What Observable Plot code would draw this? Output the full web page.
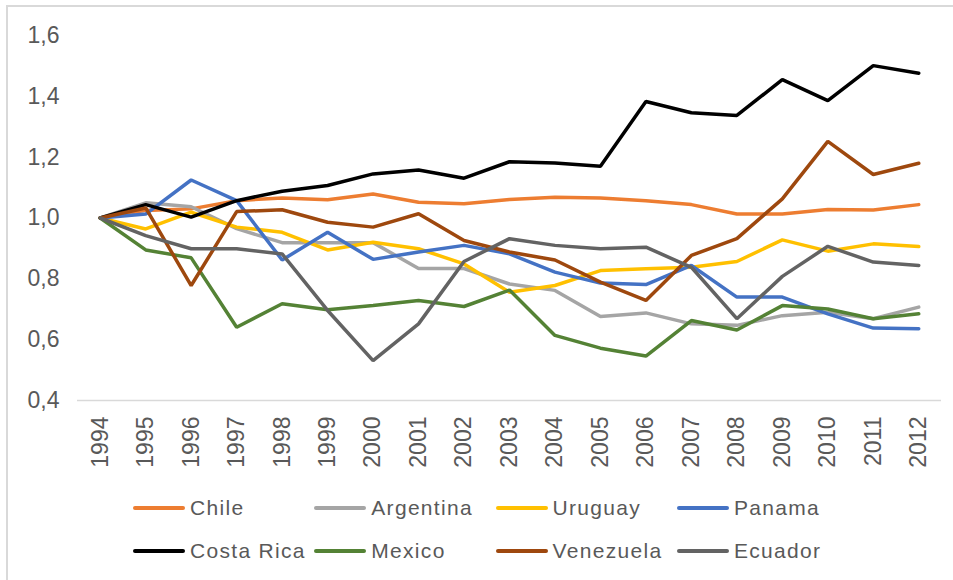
<!DOCTYPE html>
<html>
<head>
<meta charset="utf-8">
<script src="https://cdn.jsdelivr.net/npm/d3@7"></script>
<script src="https://cdn.jsdelivr.net/npm/@observablehq/plot@0.6"></script>
<style>
  html, body { margin: 0; padding: 0; background: #fff; overflow: hidden; }
  body { width: 953px; height: 580px; position: relative; font-family: "Liberation Sans", Arial, sans-serif; }
  #frame { position: absolute; left: 6px; top: 5px; width: 980px; height: 620px; border: 2px solid #d9d9d9; box-sizing: border-box; }
  #chart { position: absolute; left: 0; top: 0; }
  #legend { position: absolute; left: 133px; top: 486px; display: grid; grid-template-columns: repeat(4, 181.3px); grid-auto-rows: 43px; }
  .item { display: flex; align-items: center; font-size: 21px; letter-spacing: 1.3px; color: #595959; }
  .sw { width: 52px; height: 4px; border-radius: 2px; margin-right: 5px; flex: none; }
</style>
</head>
<body>
<div id="frame"></div>
<div id="chart"></div>
<div id="legend"></div>
<script>
// Years on the category axis
const years = [1994, 1995, 1996, 1997, 1998, 1999, 2000, 2001, 2002, 2003,
               2004, 2005, 2006, 2007, 2008, 2009, 2010, 2011, 2012];

// Index values per country (1994 = 1)
const chile      = [1.000, 1.025, 1.030, 1.057, 1.066, 1.060, 1.079, 1.052, 1.047, 1.061, 1.068, 1.066, 1.057, 1.044, 1.013, 1.013, 1.028, 1.026, 1.044];
const argentina  = [1.000, 1.050, 1.037, 0.965, 0.919, 0.919, 0.919, 0.834, 0.834, 0.783, 0.762, 0.676, 0.688, 0.652, 0.647, 0.679, 0.690, 0.669, 0.707];
const uruguay    = [1.000, 0.964, 1.019, 0.970, 0.953, 0.895, 0.920, 0.899, 0.849, 0.756, 0.778, 0.827, 0.833, 0.838, 0.857, 0.928, 0.891, 0.915, 0.906];
const panama     = [1.000, 1.013, 1.125, 1.057, 0.862, 0.953, 0.864, 0.888, 0.910, 0.882, 0.822, 0.786, 0.781, 0.844, 0.740, 0.740, 0.685, 0.638, 0.636];
const costaRica  = [1.000, 1.044, 1.003, 1.057, 1.088, 1.107, 1.145, 1.158, 1.131, 1.185, 1.181, 1.170, 1.383, 1.346, 1.337, 1.455, 1.386, 1.501, 1.476];
const mexico     = [1.000, 0.895, 0.869, 0.641, 0.718, 0.698, 0.712, 0.729, 0.709, 0.763, 0.614, 0.572, 0.546, 0.663, 0.632, 0.712, 0.701, 0.669, 0.685];
const venezuela  = [1.000, 1.033, 0.778, 1.021, 1.027, 0.986, 0.970, 1.014, 0.926, 0.888, 0.862, 0.789, 0.729, 0.877, 0.932, 1.063, 1.252, 1.143, 1.180];
const ecuador    = [1.000, 0.942, 0.899, 0.899, 0.882, 0.696, 0.531, 0.652, 0.857, 0.932, 0.910, 0.899, 0.904, 0.838, 0.669, 0.808, 0.907, 0.855, 0.844];

const countries = ["Chile", "Argentina", "Uruguay", "Panama", "Costa Rica", "Mexico", "Venezuela", "Ecuador"];
const seriesValues = [chile, argentina, uruguay, panama, costaRica, mexico, venezuela, ecuador];
const colors = ["#ED7D31", "#A5A5A5", "#FFC000", "#4472C4", "#000000", "#548235", "#9E480E", "#636363"];

const yTicks = [0.4, 0.6, 0.8, 1.0, 1.2, 1.4, 1.6];

// Long table for the line mark
const rows = countries.flatMap((c, i) =>
  years.map((yr, j) => ({country: c, year: yr, value: seriesValues[i][j]}))
);

const chart = Plot.plot({
  width: 953,
  height: 480,
  marginLeft: 77,
  marginRight: 12,
  marginTop: 35,
  marginBottom: 80,
  style: {fontFamily: "'Liberation Sans', Arial, sans-serif", background: "transparent"},
  x: {domain: [1993.5, 2012.5]},
  y: {domain: [0.4, 1.6]},
  color: {domain: countries, range: colors},
  marks: [
    Plot.ruleY([0.4], {stroke: "#d9d9d9", strokeWidth: 1.3}),
    Plot.axisY({
      ticks: yTicks, tickSize: 0, tickPadding: 18,
      tickFormat: d => d.toFixed(1).replace(".", ","),
      fontSize: 23, fill: "#595959", label: null
    }),
    Plot.axisX({
      ticks: years, tickSize: 0, tickPadding: 16, tickRotate: -90,
      tickFormat: d => String(d),
      fontSize: 23, fill: "#595959", label: null
    }),
    Plot.line(rows, {
      x: "year", y: "value", z: "country", stroke: "country",
      strokeWidth: 3.5, strokeLinejoin: "miter", strokeLinecap: "round"
    })
  ]
});
document.getElementById("chart").appendChild(chart);

// Legend below the plot, two rows of four
const legend = document.getElementById("legend");
countries.forEach((c, i) => {
  const item = document.createElement("div");
  item.className = "item";
  const sw = document.createElement("span");
  sw.className = "sw";
  sw.style.background = colors[i];
  const label = document.createElement("span");
  label.textContent = c;
  item.appendChild(sw);
  item.appendChild(label);
  legend.appendChild(item);
});
</script>
</body>
</html>
